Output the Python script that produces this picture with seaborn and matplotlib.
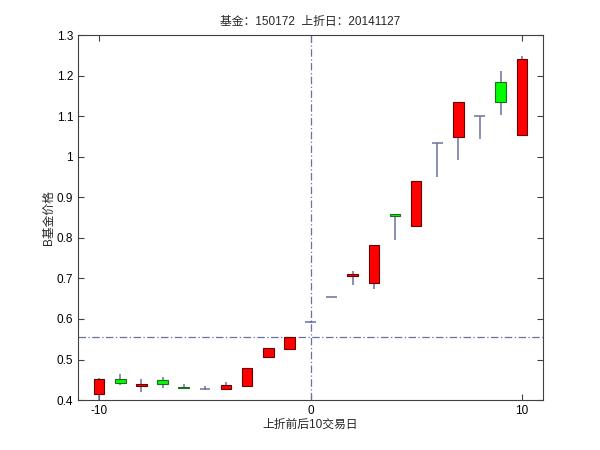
import numpy as np
import matplotlib
matplotlib.use("Agg")
import matplotlib.pyplot as plt
import seaborn as sns

days = list(range(-10, 11))
open_ = [0.415, 0.452, 0.435, 0.449, 0.432, 0.428, 0.427, 0.435, 0.507, 0.525, 0.593,
         0.653, 0.707, 0.689, 0.859, 0.830, 1.034, 1.048, 1.101, 1.184, 1.054]
close = [0.452, 0.441, 0.439, 0.439, 0.429, 0.428, 0.437, 0.480, 0.528, 0.556, 0.593,
         0.653, 0.712, 0.782, 0.855, 0.939, 1.034, 1.136, 1.101, 1.135, 1.240]
high = [0.454, 0.464, 0.452, 0.458, 0.439, 0.435, 0.444, 0.480, 0.528, 0.556, 0.596,
        0.653, 0.718, 0.782, 0.859, 0.939, 1.034, 1.136, 1.101, 1.211, 1.248]
low = [0.400, 0.437, 0.420, 0.429, 0.427, 0.425, 0.427, 0.434, 0.505, 0.523, 0.590,
       0.653, 0.684, 0.675, 0.794, 0.830, 0.950, 0.993, 1.044, 1.103, 1.054]
ref_price = 0.555

sns.set_theme(style="white")
plt.rcParams["font.family"] = ["Liberation Sans", "Noto Sans CJK SC"]
plt.rcParams["axes.unicode_minus"] = False

fig = plt.figure(figsize=(6, 4.5), dpi=100)
ax = fig.add_axes([0.13, 0.111, 0.775, 0.811])

wick = "#6a70a0"
w = 0.5

ax.axvline(0, color=wick, lw=0.9, ls=(0, (6, 2, 1, 2)), zorder=1)
ax.axhline(ref_price, color=wick, lw=0.9, ls=(0, (6, 2, 1, 2)), zorder=1)

for d, o, c, h, l in zip(days, open_, close, high, low):
    ax.vlines(d, l, h, color=wick, lw=1.1, zorder=2)
    if o == c:
        ax.hlines(o, d - w / 2, d + w / 2, color=wick, lw=1.1, zorder=3)
    else:
        col = "#ff0000" if c > o else "#00ff00"
        ec = "#6a0000" if c > o else "#1f6b1f"
        ax.bar(d, abs(c - o), bottom=min(o, c), width=w, color=col,
               edgecolor=ec, linewidth=0.8, zorder=3)

ax.set_xlim(-11, 11)
ax.set_ylim(0.4, 1.3)
ax.set_xticks([-10, 0, 10])
ax.set_yticks(np.arange(0.4, 1.31, 0.1))
ax.set_yticklabels(["0.4", "0.5", "0.6", "0.7", "0.8", "0.9", "1", "1.1", "1.2", "1.3"])
ax.tick_params(direction="in", length=4, width=0.8, colors="#404040",
               labelcolor="black", labelsize=8.5, top=True, right=True,
               bottom=True, left=True)
for s in ax.spines.values():
    s.set_color("#404040")
    s.set_linewidth(0.8)

ax.set_title("基金：150172  上折日：20141127", fontsize=8.5, pad=7)
ax.set_xlabel("上折前后10交易日", fontsize=8.5, labelpad=1)
ax.set_ylabel("B基金价格", fontsize=8.5)
ax.yaxis.set_label_coords(-0.05, 0.5)

fig.savefig("out.png", dpi=100, facecolor="white")
